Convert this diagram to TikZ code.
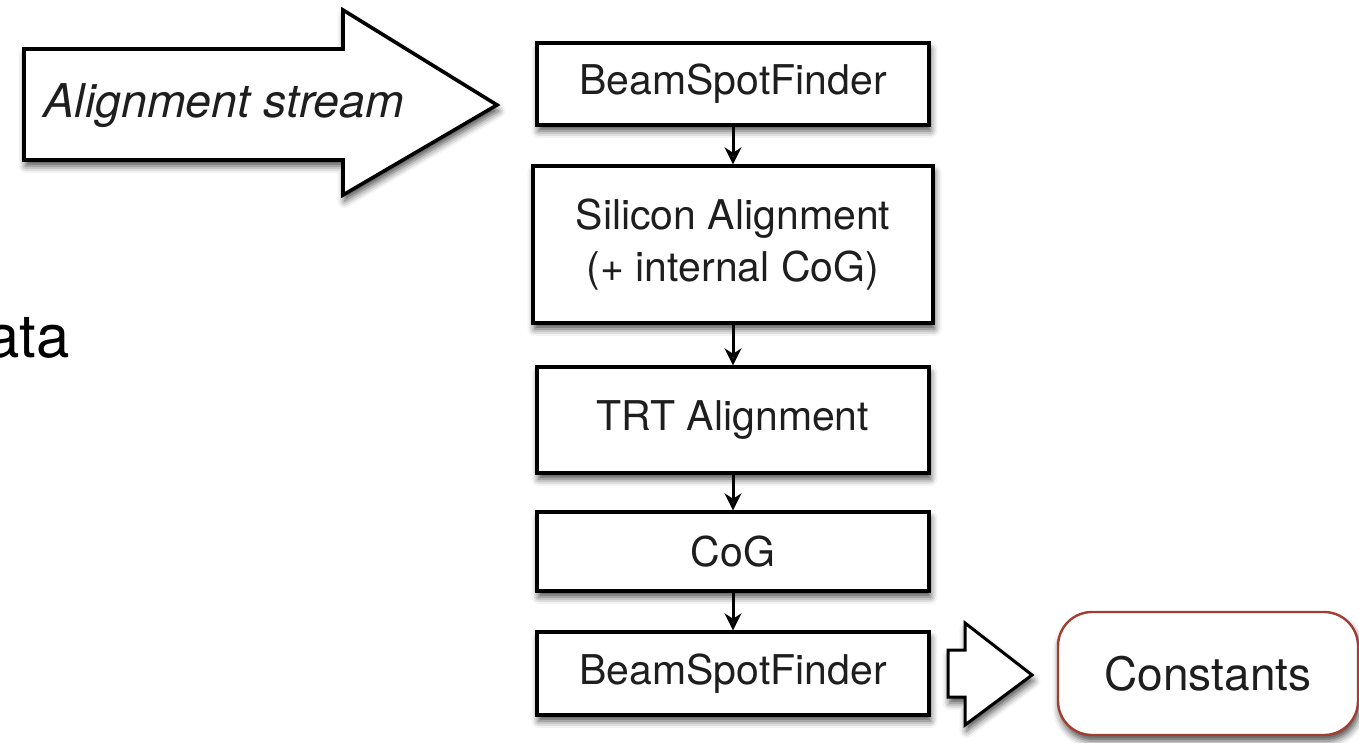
\documentclass[tikz,border=0pt]{standalone}
\usepackage{fontspec}
\setmainfont{TeX Gyre Heros}
\usetikzlibrary{arrows.meta,shadows.blur}

\definecolor{inkgray}{RGB}{30,30,30}
\definecolor{rimred}{RGB}{160,62,50}

\begin{document}
\begin{tikzpicture}[x=1pt,y=-1pt,
  softshadow/.style={blur shadow={shadow xshift=1.5pt, shadow yshift=-6pt,
      shadow blur radius=7pt, shadow opacity=70}},
  stepbox/.style={draw=black, line width=3.4pt, fill=white, minimum width=392pt,
      inner sep=0pt, text=inkgray, font=\fontsize{41}{52}\selectfont,
      align=center, softshadow},
  flow/.style={-{Stealth[length=17pt,width=17pt]}, line width=3pt},
  fatarrow/.style={draw=black, line width=3.6pt, fill=white, line join=miter, softshadow},
  slidetext/.style={inner sep=0pt, text=black, font=\fontsize{60}{72}\selectfont}
]
\useasboundingbox (0,0) rectangle (1359,743);

% fragments of the slide text on the left
\node[slidetext, anchor=base east] (frag1) at (70,357) {ata};
\node[slidetext, anchor=base east] (frag2) at (4,650) {:};

% input arrow
\draw[fatarrow] (24,49) -- (343,49) -- (343,10) -- (497,105) -- (343,195)
  -- (343,160) -- (24,160) -- cycle;
\node[inner sep=0pt, text=inkgray, font=\fontsize{46.5}{52}\selectfont\itshape, anchor=base]
  (stream) at (224,118) {Alignment stream};

% processing chain
\node[stepbox, minimum height=82pt]  (bsf1) at (733,84)    {BeamSpotFinder};
\node[stepbox, minimum width=400pt, minimum height=157pt] (si) at (733,244.5)
  {Silicon Alignment\\(+ internal CoG)};
\node[stepbox, minimum height=106pt] (trt)  at (733,420)   {TRT Alignment};
\node[stepbox, minimum height=79pt]  (cog)  at (733,551.5) {CoG};
\node[stepbox, minimum height=83pt]  (bsf2) at (733,673.5) {BeamSpotFinder};

\draw[flow] (bsf1.south) -- (si.north);
\draw[flow] (si.south) -- (trt.north);
\draw[flow] (trt.south) -- (cog.north);
\draw[flow] (cog.south) -- (bsf2.north);

% output
\node[draw=rimred, line width=2.4pt, fill=white, rounded corners=34pt,
  minimum width=300pt, minimum height=123pt, inner sep=0pt, text=inkgray,
  font=\fontsize{46}{52}\selectfont, softshadow] (const) at (1208,673.5) {Constants};

\draw[fatarrow, line width=3pt] (948,650) -- (965,650) -- (965,623) -- (1032,675)
  -- (965,725) -- (965,697) -- (948,697) -- cycle;
\end{tikzpicture}
\end{document}
